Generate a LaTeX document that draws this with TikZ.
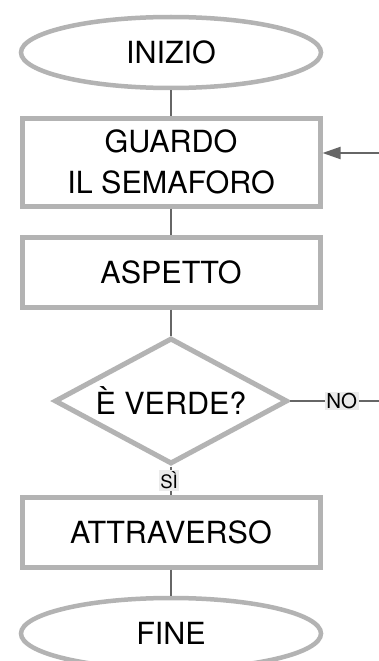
\documentclass[tikz,border=0pt]{standalone}
\usepackage{fontspec}
\setmainfont{TeX Gyre Heros}
\usetikzlibrary{shapes.geometric,arrows.meta}
\definecolor{shapegray}{HTML}{B3B3B3}
\definecolor{linegray}{HTML}{666666}
\definecolor{labelbg}{HTML}{EBEBEB}
\begin{document}
\begin{tikzpicture}[x=1pt,y=-1pt,
  box/.style={draw=shapegray,line width=5pt,fill=white,rectangle,minimum width=298pt,inner sep=0pt,font=\fontsize{30.5}{41}\selectfont,align=center},
  term/.style={draw=shapegray,line width=4.5pt,fill=white,ellipse,minimum width=300pt,minimum height=71pt,inner sep=0pt,font=\fontsize{30.5}{36}\selectfont},
  decision/.style={draw=shapegray,line width=5pt,fill=white,diamond,aspect=1.85,minimum width=233pt,minimum height=126pt,inner sep=0pt,font=\fontsize{30.5}{36}\selectfont},
  conn/.style={draw=linegray,line width=2pt},
  lbl/.style={fill=labelbg,inner sep=1.5pt,text=black}
]
\useasboundingbox (0,0) rectangle (379,661);
\clip (0,0) rectangle (379,661);
\fill[white] (0,0) rectangle (379,661);

\node[term] (inizio) at (171,52.5) {INIZIO};
\node[box,minimum height=88pt] (guardo) at (171,162) {GUARDO\\IL SEMAFORO};
\node[box,minimum height=70pt] (aspetto) at (171,272) {ASPETTO};
\node[decision] (verde) at (171,401) {È VERDE?};
\node[box,minimum height=70pt] (attr) at (171,532) {ATTRAVERSO};
\node[term] (fine) at (171,633.5) {FINE};

\coordinate (ret) at (379,153);
\coordinate (noend) at (379,401);

\draw[conn] (inizio) -- (guardo);
\draw[conn] (guardo) -- (aspetto);
\draw[conn] (aspetto) -- (verde);
\draw[conn] (verde.south) -- (attr.north)
  node[lbl,pos=0.5,xshift=-2pt,font=\fontsize{18.5}{18.5}\selectfont] {SÌ};
\draw[conn] (attr) -- (fine);
\draw[conn] (verde.east) -- (noend)
  node[lbl,pos=0.58,font=\fontsize{20.5}{20.5}\selectfont] {NO};
\draw[conn,-{Triangle[length=18pt,width=12pt]}] (ret) -- (ret -| guardo.east);
\end{tikzpicture}
\end{document}
